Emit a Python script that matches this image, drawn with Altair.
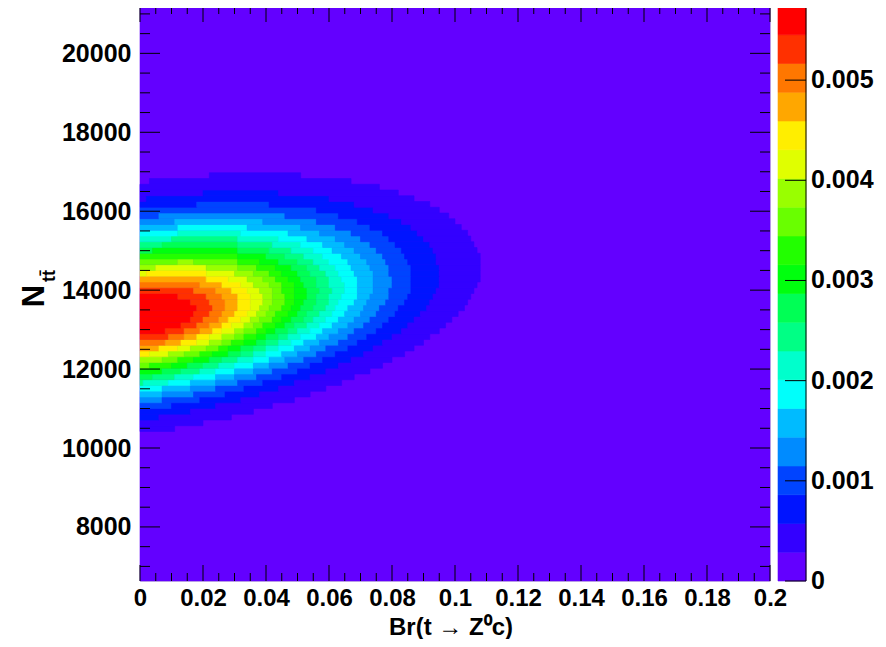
import altair as alt
import numpy as np
import pandas as pd

# ---------------- axis ranges / binning ----------------
x_range = [0.0, 0.2]
y_range = [6630.0, 21200.0]
n_bins = [200, 100]          # x bins, y bins

# ---------------- tick values / labels ----------------
x_major = [0.0, 0.02, 0.04, 0.06, 0.08, 0.10, 0.12, 0.14, 0.16, 0.18, 0.20]
y_major = [8000, 10000, 12000, 14000, 16000, 18000, 20000]
z_major = [0.0, 0.001, 0.002, 0.003, 0.004, 0.005]
z_labels = ["0", "0.001", "0.002", "0.003", "0.004", "0.005"]

# ---------------- posterior shape ----------------
peak_y = [13300.0]            # N_tt at the maximum (Br = 0)
ridge_slope = [11500.0]       # shift of N_tt per unit Br along the ridge
sigma_y = [1390.0, 1200.0]    # spread above / below the ridge
sigma_x = [0.044]             # spread in Br
peak_over_zmax = [1.03]       # smooth peak relative to the top of the colour scale
z_max = [0.00574]             # top of the colour scale
n_levels = 20

palette = ["#6300ff", "#3300ff", "#0014ff", "#0044ff", "#008bff", "#00bbff",
           "#00fffb", "#00ffcc", "#00ff85", "#00ff55", "#00ff0e", "#22ff00",
           "#69ff00", "#99ff00", "#e0ff00", "#ffee00", "#ffa700", "#ff7700",
           "#ff3000", "#ff0000"]

# ---------------- build the binned histogram ----------------
nx, ny = n_bins
x_edges = np.linspace(x_range[0], x_range[1], nx + 1)
y_edges = np.linspace(y_range[0], y_range[1], ny + 1)
xc = 0.5 * (x_edges[:-1] + x_edges[1:])
yc = 0.5 * (y_edges[:-1] + y_edges[1:])
XC, YC = np.meshgrid(xc, yc)
dy = YC - (peak_y[0] + ridge_slope[0] * XC)
sy = np.where(dy > 0, sigma_y[0], sigma_y[1])
rel = peak_over_zmax[0] * np.exp(-0.5 * ((XC / sigma_x[0]) ** 2 + (dy / sy) ** 2))
lev = np.minimum(np.floor(rel * n_levels), n_levels - 1).astype(int)

rows = [dict(x0=x_range[0], x1=x_range[1], y0=y_range[0], y1=y_range[1], level=0)]
for j in range(ny):
    i = 0
    while i < nx:
        k = lev[j, i]
        s = i
        while i < nx and lev[j, i] == k:
            i += 1
        if k >= 1:
            rows.append(dict(x0=x_edges[s], x1=x_edges[i], y0=y_edges[j], y1=y_edges[j + 1], level=int(k)))
cells = pd.DataFrame(rows)

FONT = "Liberation Sans"
W, H = 630, 575

xscale = alt.Scale(domain=x_range, nice=False, zero=False)
yscale = alt.Scale(domain=y_range, nice=False, zero=False)
zscale = alt.Scale(domain=[0, z_max[0]], nice=False, zero=False)
cscale = alt.Scale(domain=list(range(n_levels)), range=palette)

xaxis = alt.Axis(values=x_major, format="~g", title=None,
                 grid=False, ticks=False, domain=False,
                 labelFont=FONT, labelFontWeight="bold", labelFontSize=24,
                 labelColor="black", labelPadding=5, labelFlush=False)

heat = alt.Chart(cells).mark_rect(strokeWidth=0.6).encode(
    x=alt.X("x0:Q", scale=xscale, axis=xaxis),
    x2="x1:Q",
    y=alt.Y("y0:Q", scale=yscale,
            axis=alt.Axis(values=y_major, format="d", title=None, grid=False,
                          ticks=False, domain=False, labelFont=FONT,
                          labelFontWeight="bold", labelFontSize=25,
                          labelColor="black", labelPadding=9)),
    y2="y1:Q",
    color=alt.Color("level:O", scale=cscale, legend=None),
    stroke=alt.Stroke("level:O", scale=cscale, legend=None),
)

# ---------------- inward ticks ----------------
x_minor = [round(a + (b - a) * f, 4) for a, b in zip(x_major[:-1], x_major[1:]) for f in (0.25, 0.5, 0.75)]
y_minor = [v for v in range(7000, 21001, 500) if v % 2000 != 0]

def xticks(vals, y_a, y_b):
    return alt.Chart(pd.DataFrame({"x0": vals})).mark_rule(color="black", strokeWidth=1).encode(
        x=alt.X("x0:Q", scale=xscale, axis=xaxis), y=alt.value(y_a), y2=alt.value(y_b))

def yticks(vals, x_a, x_b):
    return alt.Chart(pd.DataFrame({"v": vals})).mark_rule(color="black", strokeWidth=1).encode(
        y=alt.Y("v:Q", scale=yscale, axis=None), x=alt.value(x_a), x2=alt.value(x_b))

tick_layers = [
    xticks(x_major, H, H - 16), xticks(x_minor, H, H - 8),
    xticks(x_major, 0, 16), xticks(x_minor, 0, 8),
    yticks(y_major, 0, 20), yticks(y_minor, 0, 10),
    yticks(y_major, W, W - 20), yticks(y_minor, W, W - 10),
]

# ---------------- colour bar ----------------
cb = pd.DataFrame({
    "level": list(range(n_levels)),
    "lo": [k * z_max[0] / n_levels for k in range(n_levels)],
    "hi": [(k + 1) * z_max[0] / n_levels for k in range(n_levels)],
})
CB0, CB1 = 638, 666
cbar = alt.Chart(cb).mark_rect(strokeWidth=0.6).encode(
    x=alt.value(CB0), x2=alt.value(CB1),
    y=alt.Y("lo:Q", scale=zscale, axis=None), y2="hi:Q",
    color=alt.Color("level:O", scale=cscale, legend=None),
    stroke=alt.Stroke("level:O", scale=cscale, legend=None),
)
zt = pd.DataFrame({"v": z_major, "lab": z_labels})
cbar_ticks = alt.Chart(zt).mark_rule(color="black", strokeWidth=1).encode(
    y=alt.Y("v:Q", scale=zscale, axis=None), x=alt.value(CB1 - 21), x2=alt.value(CB1))
cbar_edge = alt.Chart(pd.DataFrame({"v": [0]})).mark_rule(color="black", strokeWidth=1).encode(
    x=alt.value(CB1), y=alt.value(0), y2=alt.value(H))
cbar_labels = alt.Chart(zt).mark_text(
    align="left", baseline="middle", font=FONT, fontWeight="bold", fontSize=25, color="black"
).encode(y=alt.Y("v:Q", scale=zscale, axis=None), x=alt.value(CB1 + 5), text="lab:N")

# ---------------- axis titles ----------------
x_title = alt.Chart(pd.DataFrame({"t": ["Br(t \u2192 Z\u2070c)"]})).mark_text(
    align="center", baseline="alphabetic", font=FONT, fontWeight="bold",
    fontSize=24, color="black"
).encode(x=alt.value(311), y=alt.value(629), text="t:N")
y_N = alt.Chart(pd.DataFrame({"t": ["N"]})).mark_text(
    angle=270, align="center", baseline="alphabetic", font=FONT, fontWeight="bold",
    fontSize=31, color="black"
).encode(x=alt.value(-96), y=alt.value(290), text="t:N")
y_sub = alt.Chart(pd.DataFrame({"t": ["tt\u0304"]})).mark_text(
    angle=270, align="center", baseline="alphabetic", font=FONT, fontWeight="bold",
    fontSize=18, color="black"
).encode(x=alt.value(-85), y=alt.value(270), text="t:N")

chart = alt.layer(
    heat, *tick_layers, cbar, cbar_ticks, cbar_edge, cbar_labels, x_title, y_N, y_sub
).resolve_scale(y="independent").properties(
    width=W, height=H,
    autosize=alt.AutoSizeParams(type="none"),
    padding={"left": 132, "top": -2, "right": 108, "bottom": 58},
).configure_view(stroke="black", strokeWidth=2).configure(background="white")

chart.save("out.html", embed_options={"renderer": "svg", "actions": False})
